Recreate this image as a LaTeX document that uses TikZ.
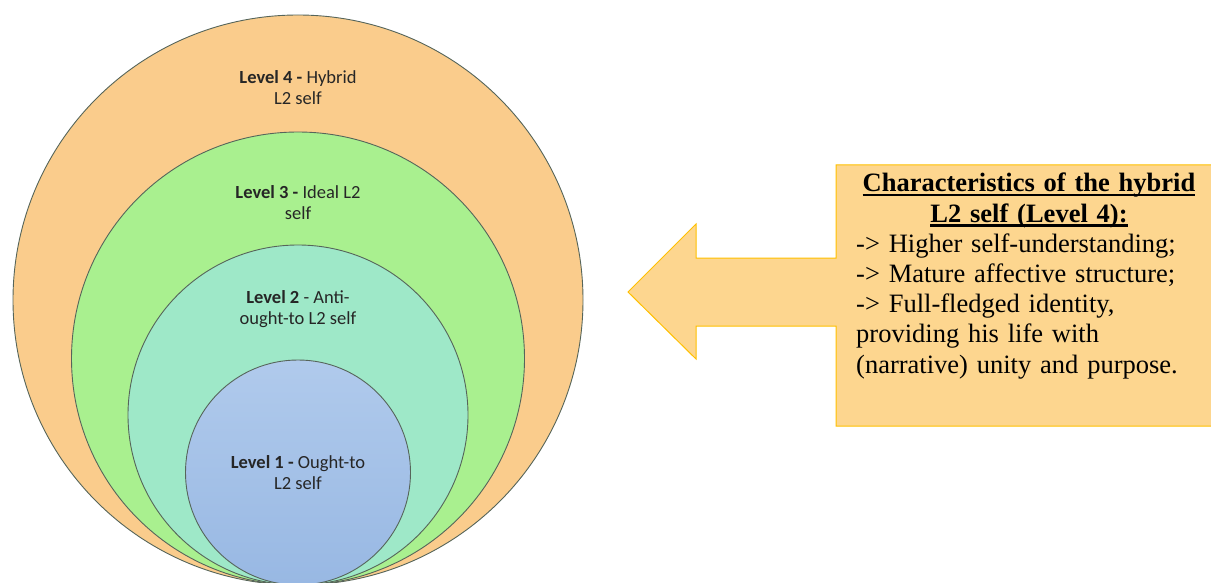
\documentclass[tikz,border=0pt]{standalone}
\usepackage{fontspec}
\setmainfont{Liberation Serif}
\newfontfamily\levelfont{Carlito}
\usepackage{tikz}
\usepackage{xcolor}
\definecolor{lvlfour}{HTML}{FACC8C}
\definecolor{lvlthree}{HTML}{A9F08F}
\definecolor{lvltwo}{HTML}{9EE8C8}
\definecolor{lvlonetop}{HTML}{B0CAEC}
\definecolor{lvlonebot}{HTML}{98B8E3}
\definecolor{ringline}{HTML}{56655A}
\definecolor{calloutfill}{HTML}{FDD68F}
\definecolor{calloutline}{HTML}{FFC000}
\newcommand{\ulbold}[1]{\leavevmode\setbox0\hbox{\textbf{#1}}\rlap{\rule[-4.3pt]{\wd0}{2.2pt}}\box0}
\tikzstyle{level} = [circle, 
draw=ringline, 
line width=0.9pt, 
inner sep=0pt]
\tikzstyle{leveltext} = [align=center, 
font=\levelfont\fontsize{18.5}{21}\selectfont, 
text=black!85]
\tikzstyle{callout} = [fill=calloutfill, 
draw=calloutline, 
line width=1pt]
\tikzstyle{calltext} = [inner sep=0pt, 
font=\fontsize{26.5}{30.3}\selectfont]

\begin{document}
\begin{tikzpicture}[x=1pt, y=-1pt]
        \useasboundingbox (0,0) rectangle (1211,583);

        % --- Circles (all touching at the bottom) ---
        \node (lvl4) [level, fill=lvlfour, minimum size=570pt] at (298,300) {};
        \node (lvl3) [level, fill=lvlthree, minimum size=453pt, anchor=south] at (lvl4.south) {};
        \node (lvl2) [level, fill=lvltwo, minimum size=340pt, anchor=south] at (lvl4.south) {};
        \node (lvl1) [level, top color=lvlonetop, bottom color=lvlonebot, minimum size=225pt, anchor=south] at (lvl4.south) {};

        % --- Level labels ---
        \node (lvl4txt) [leveltext] at (298,88) {\textbf{Level 4 -} Hybrid\\L2 self};
        \node (lvl3txt) [leveltext] at (298,203) {\textbf{Level 3 -} Ideal L2\\self};
        \node (lvl2txt) [leveltext] at (298,309) {\textbf{Level 2} - Anti-\\ought-to L2 self};
        \node (lvl1txt) [leveltext] at (298,473) {\textbf{Level 1 -} Ought-to\\L2 self};

        % --- Callout box with arrow ---
        \filldraw [callout] (836,165) -- (1212,165) -- (1212,426) -- (836,426) -- (836,326) -- (696,326) -- (696,359) -- (628,292) -- (696,224) -- (696,258) -- (836,258) -- cycle;

        \node (title) [calltext, anchor=base, text width=360pt, align=center] at (1029,192) {\ulbold{Characteristics of the hybrid}\\\ulbold{L2 self (Level 4):}};
        \node (points) [calltext, anchor=base west, text width=354pt, align=left] at (856,252) {-> Higher self-understanding;\\-> Mature affective structure;\\-> Full-fledged identity,\\providing his life with\\(narrative) unity and purpose.};

\end{tikzpicture}
\end{document}
